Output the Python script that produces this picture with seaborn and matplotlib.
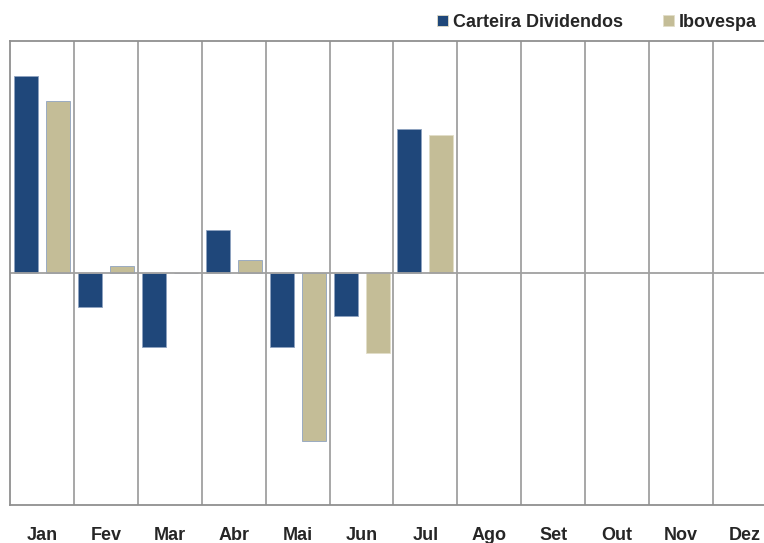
import pandas as pd
import numpy as np
import matplotlib
matplotlib.use("Agg")
import matplotlib.pyplot as plt
import seaborn as sns

# monthly returns (%)
meses = ['Jan', 'Fev', 'Mar', 'Abr', 'Mai', 'Jun', 'Jul', 'Ago', 'Set', 'Out', 'Nov', 'Dez']
carteira = [12.74, -2.23, -4.77, 2.80, -4.77, -2.75, 9.34, np.nan, np.nan, np.nan, np.nan, np.nan]
ibovespa = [11.14, 0.45, 0.0, 0.86, -10.86, -5.20, 8.95, np.nan, np.nan, np.nan, np.nan, np.nan]
series = ['Carteira Dividendos', 'Ibovespa']
cores = ['#1F477A', '#C4BD97']

df = pd.DataFrame({
    'Mes': meses * 2,
    'Retorno': carteira + ibovespa,
    'Serie': [series[0]] * 12 + [series[1]] * 12,
})

sns.set_style('white')
plt.rcParams['font.family'] = ['Liberation Sans Narrow', 'Liberation Sans', 'DejaVu Sans']

fig = plt.figure(figsize=(7.64, 5.43), dpi=100)
ax = fig.add_axes([10 / 764, 1 - 505 / 543, 767 / 764, (505 - 41) / 543])

sns.barplot(data=df, x='Mes', y='Retorno', hue='Serie', order=meses,
            hue_order=series, palette=cores, saturation=1, width=1.0, gap=0.25,
            edgecolor='#8FA3C0', linewidth=0.6, ax=ax)
for p in ax.patches[12:]:
    p.set_edgecolor('#E2DDC8')

ax.set_ylim(-15, 15)
ax.set_xlim(-0.5, 11.5)
ax.set_yticks([])
ax.set_xlabel('')
ax.set_ylabel('')

# category separators
ax.set_xticks(np.arange(0.5, 11, 1), minor=True)
ax.grid(which='minor', axis='x', color='#A0A0A0', linewidth=1.3)
ax.tick_params(axis='x', which='both', length=0, pad=16)
ax.axhline(0, color='#A0A0A0', linewidth=1.3, zorder=1)
for lab in ax.get_xticklabels():
    lab.set_fontweight('bold')
    lab.set_fontsize(13)
for s in ax.spines.values():
    s.set_color('#909090')
    s.set_linewidth(1.3)

handles, labels = ax.get_legend_handles_labels()
ax.legend(handles, labels, loc='lower right', bbox_to_anchor=(757 / 767, 1.0),
          ncol=2, frameon=False, handlelength=0.6, handleheight=0.6,
          handletextpad=0.3, columnspacing=2.2, borderaxespad=0.15,
          prop={'weight': 'bold', 'size': 13})

fig.savefig('out.png', dpi=100)
